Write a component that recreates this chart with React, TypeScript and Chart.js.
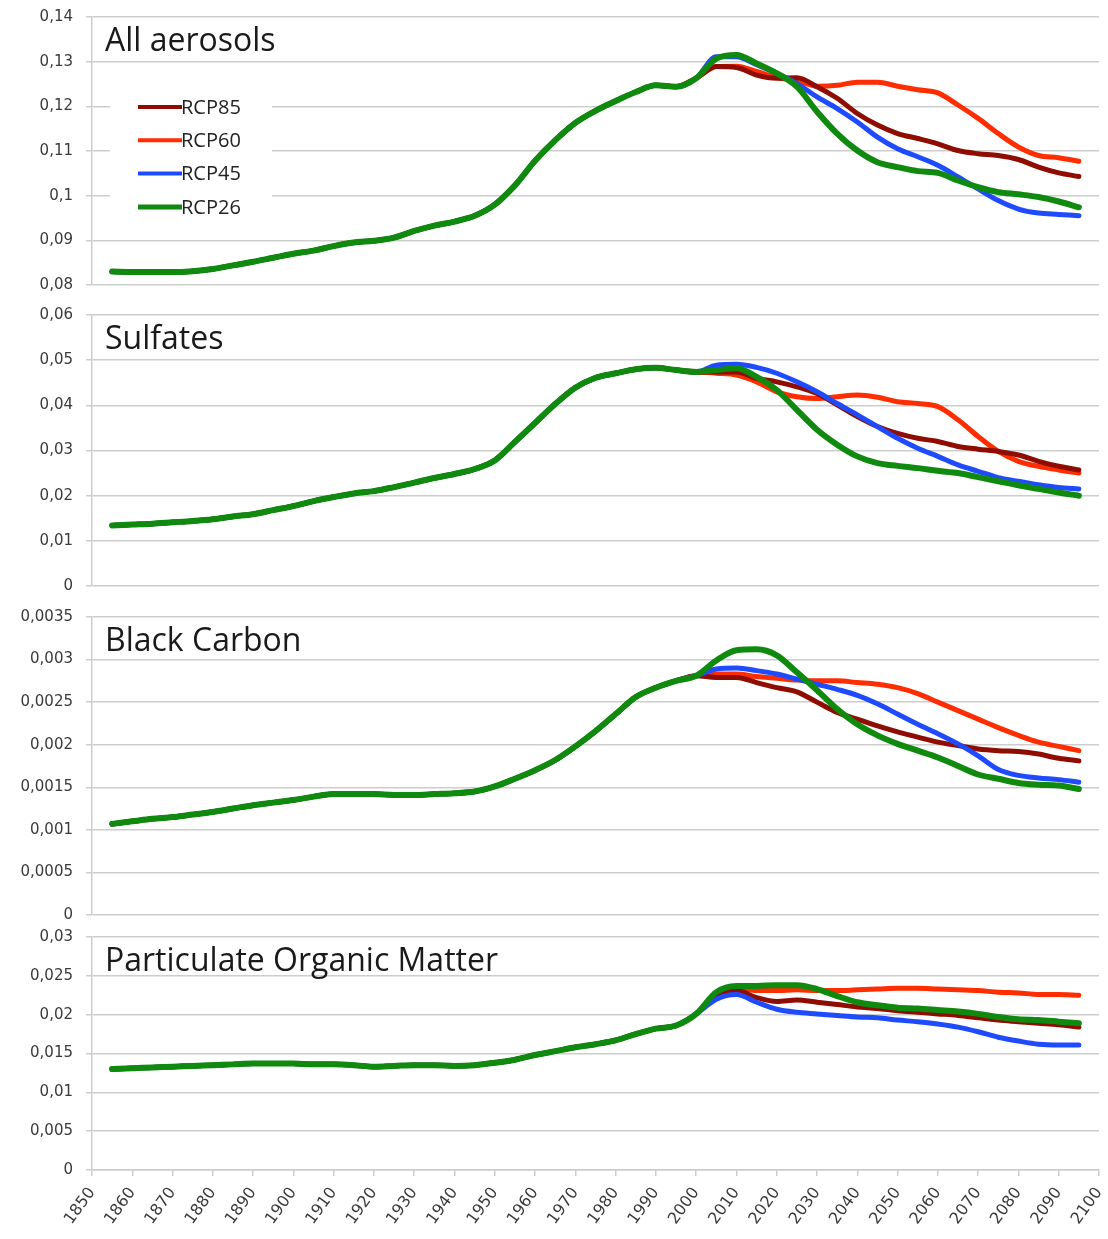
import React, { useEffect, useRef } from "react";
import { Chart, registerables } from "chart.js";

Chart.register(...registerables);

// ---------- DATA ----------
const years = [
  1855, 1860, 1865, 1870, 1875, 1880, 1885, 1890, 1895, 1900,
  1905, 1910, 1915, 1920, 1925, 1930, 1935, 1940, 1945, 1950,
  1955, 1960, 1965, 1970, 1975, 1980, 1985, 1990, 1995, 2000,
  2005, 2010, 2015, 2020, 2025, 2030, 2035, 2040, 2045, 2050,
  2055, 2060, 2065, 2070, 2075, 2080, 2085, 2090, 2095,
];

const seriesNames = ["RCP85", "RCP60", "RCP45", "RCP26"];
const xTickYears = [1850, 1860, 1870, 1880, 1890, 1900, 1910, 1920, 1930, 1940, 1950, 1960, 1970, 1980, 1990, 2000, 2010, 2020, 2030, 2040, 2050, 2060, 2070, 2080, 2090, 2100];

// All aerosols (historical 1855-2000, scenarios 2005-2095)
const allHist = [
  0.0830, 0.0829, 0.0829, 0.0829, 0.0831, 0.0836, 0.0844, 0.0852, 0.0861, 0.0870,
  0.0877, 0.0887, 0.0895, 0.0899, 0.0906, 0.0921, 0.0933, 0.0942, 0.0955, 0.0980,
  0.1023, 0.1078, 0.1124, 0.1163, 0.1190, 0.1212, 0.1232, 0.1247, 0.1244, 0.1263,
];
const allRcp85 = [0.1289, 0.1287, 0.1270, 0.1263, 0.1264, 0.1244, 0.1218, 0.1184, 0.1158, 0.1139, 0.1128, 0.1116, 0.1101, 0.1094, 0.1090, 0.1081, 0.1064, 0.1051, 0.1043];
const allRcp60 = [0.1289, 0.1290, 0.1278, 0.1265, 0.1257, 0.1245, 0.1247, 0.1254, 0.1254, 0.1245, 0.1237, 0.1230, 0.1203, 0.1173, 0.1139, 0.1109, 0.1090, 0.1085, 0.1077];
const allRcp45 = [0.1311, 0.1311, 0.1293, 0.1274, 0.1251, 0.1221, 0.1195, 0.1165, 0.1131, 0.1105, 0.1087, 0.1068, 0.1042, 0.1015, 0.0989, 0.0970, 0.0961, 0.0958, 0.0955];
const allRcp26 = [0.1307, 0.1315, 0.1296, 0.1274, 0.1244, 0.1188, 0.1139, 0.1101, 0.1075, 0.1064, 0.1055, 0.1051, 0.1034, 0.1019, 0.1008, 0.1003, 0.0997, 0.0987, 0.0974];

// Sulfates
const sulHist = [
  0.0134, 0.0136, 0.0138, 0.0141, 0.0144, 0.0148, 0.0154, 0.0159, 0.0168, 0.0177,
  0.0188, 0.0197, 0.0205, 0.0210, 0.0219, 0.0229, 0.0239, 0.0248, 0.0259, 0.0278,
  0.0319, 0.0361, 0.0403, 0.0439, 0.0461, 0.0471, 0.0480, 0.0483, 0.0478, 0.0474,
];
const sulRcp85 = [0.0474, 0.0474, 0.0460, 0.0452, 0.0441, 0.0426, 0.0401, 0.0375, 0.0353, 0.0338, 0.0327, 0.0320, 0.0309, 0.0303, 0.0298, 0.0290, 0.0276, 0.0265, 0.0257];
const sulRcp60 = [0.0471, 0.0467, 0.0452, 0.0430, 0.0419, 0.0415, 0.0419, 0.0423, 0.0418, 0.0408, 0.0404, 0.0397, 0.0368, 0.0331, 0.0298, 0.0276, 0.0265, 0.0257, 0.0250];
const sulRcp45 = [0.0489, 0.0491, 0.0484, 0.0471, 0.0452, 0.0430, 0.0404, 0.0379, 0.0353, 0.0327, 0.0305, 0.0287, 0.0268, 0.0254, 0.0240, 0.0232, 0.0224, 0.0218, 0.0215];
const sulRcp26 = [0.0478, 0.0482, 0.0463, 0.0434, 0.0390, 0.0346, 0.0313, 0.0287, 0.0272, 0.0266, 0.0261, 0.0255, 0.0250, 0.0241, 0.0232, 0.0223, 0.0215, 0.0207, 0.0200];

// Black Carbon
const bcHist = [
  0.00107, 0.00110, 0.00113, 0.00115, 0.00118, 0.00121, 0.00125, 0.00129, 0.00132, 0.00135,
  0.00139, 0.00142, 0.00142, 0.00142, 0.00141, 0.00141, 0.00142, 0.00143, 0.00145, 0.00151,
  0.00160, 0.00170, 0.00182, 0.00198, 0.00216, 0.00236, 0.00256, 0.00267, 0.00275, 0.00281,
];
const bcRcp85 = [0.00279, 0.00279, 0.00273, 0.00267, 0.00262, 0.00250, 0.00238, 0.00230, 0.00222, 0.00215, 0.00209, 0.00203, 0.00199, 0.00195, 0.00193, 0.00192, 0.00189, 0.00184, 0.00181];
const bcRcp60 = [0.00283, 0.00283, 0.00280, 0.00278, 0.00276, 0.00275, 0.00275, 0.00273, 0.00271, 0.00267, 0.00260, 0.00250, 0.00240, 0.00230, 0.00220, 0.00211, 0.00203, 0.00198, 0.00193];
const bcRcp45 = [0.00289, 0.00290, 0.00287, 0.00283, 0.00277, 0.00271, 0.00265, 0.00258, 0.00248, 0.00236, 0.00224, 0.00213, 0.00201, 0.00187, 0.00171, 0.00164, 0.00161, 0.00159, 0.00156];
const bcRcp26 = [0.00299, 0.00311, 0.00312, 0.00305, 0.00285, 0.00264, 0.00242, 0.00224, 0.00211, 0.00201, 0.00193, 0.00185, 0.00175, 0.00165, 0.00160, 0.00155, 0.00153, 0.00152, 0.00148];

// Particulate Organic Matter
const pomHist = [
  0.0130, 0.0131, 0.0132, 0.0133, 0.0134, 0.0135, 0.0136, 0.0137, 0.0137, 0.0137,
  0.0136, 0.0136, 0.0135, 0.0133, 0.0134, 0.0135, 0.0135, 0.0134, 0.0135, 0.0138,
  0.0142, 0.0148, 0.0153, 0.0158, 0.0162, 0.0167, 0.0175, 0.0182, 0.0186, 0.0201,
];
const pomRcp85 = [0.0226, 0.0231, 0.0222, 0.0217, 0.0219, 0.0216, 0.0213, 0.0210, 0.0208, 0.0205, 0.0203, 0.0201, 0.0199, 0.0196, 0.0193, 0.0191, 0.0189, 0.0187, 0.0184];
const pomRcp60 = [0.0226, 0.0233, 0.0231, 0.0231, 0.0232, 0.0231, 0.0231, 0.0232, 0.0233, 0.0234, 0.0234, 0.0233, 0.0232, 0.0231, 0.0229, 0.0228, 0.0226, 0.0226, 0.0225];
const pomRcp45 = [0.0220, 0.0226, 0.0216, 0.0207, 0.0203, 0.0201, 0.0199, 0.0197, 0.0196, 0.0193, 0.0191, 0.0188, 0.0184, 0.0178, 0.0171, 0.0166, 0.0162, 0.0161, 0.0161];
const pomRcp26 = [0.0229, 0.0237, 0.0237, 0.0238, 0.0238, 0.0233, 0.0224, 0.0216, 0.0212, 0.0209, 0.0208, 0.0206, 0.0204, 0.0201, 0.0197, 0.0194, 0.0193, 0.0191, 0.0189];

const panelTitles = ["All aerosols", "Sulfates", "Black Carbon", "Particulate Organic Matter"];
const yMins = [0.08, 0, 0, 0];
const yMaxs = [0.14, 0.06, 0.0035, 0.03];
const ySteps = [0.01, 0.01, 0.0005, 0.005];

// ---------- STYLE / LAYOUT ----------
const COLORS = ["#8e0c00", "#ff2d00", "#1f4bff", "#0f8a0f"];
const WIDTHS = [5, 5, 5, 6];
const ORDERS = [2, 3, 1, 0];
const GRID = "#cdcdcd";
const W = 1108;
const LEFT_W = 92;
const RIGHT_PAD = 9;

const panelLayout = [
  { top: 0, height: 300, padTop: 17, padBottom: 15 },
  { top: 300, height: 305, padTop: 15, padBottom: 19 },
  { top: 605, height: 320, padTop: 12, padBottom: 10 },
  { top: 925, height: 314, padTop: 12, padBottom: 0 },
];

const panelData = [
  { hist: allHist, fut: [allRcp85, allRcp60, allRcp45, allRcp26] },
  { hist: sulHist, fut: [sulRcp85, sulRcp60, sulRcp45, sulRcp26] },
  { hist: bcHist, fut: [bcRcp85, bcRcp60, bcRcp45, bcRcp26] },
  { hist: pomHist, fut: [pomRcp85, pomRcp60, pomRcp45, pomRcp26] },
];

const fmtComma = (v: number) => {
  const r = Number(Number(v).toFixed(6));
  return String(r).replace(".", ",");
};

const decorPlugin = {
  id: "panelDecor",
  beforeDatasetsDraw(chart: any, _args: any, opts: any) {
    if (!opts || !opts.legend) return;
    const { ctx, chartArea } = chart;
    ctx.save();
    ctx.fillStyle = "#ffffff";
    ctx.fillRect(chartArea.left + 18, chartArea.top + 70, 162, 140);
    ctx.font = "20px 'Open Sans'";
    ctx.textBaseline = "middle";
    ctx.textAlign = "left";
    seriesNames.forEach((name, i) => {
      const y = chartArea.top + 90 + i * 33.3;
      ctx.strokeStyle = COLORS[i];
      ctx.lineWidth = i === 3 ? 5 : 4;
      ctx.beginPath();
      ctx.moveTo(chartArea.left + 46, y);
      ctx.lineTo(chartArea.left + 90, y);
      ctx.stroke();
      ctx.fillStyle = "#222222";
      ctx.fillText(name, chartArea.left + 89, y + 1);
    });
    ctx.restore();
  },
  afterDatasetsDraw(chart: any, _args: any, opts: any) {
    if (!opts || !opts.title) return;
    const { ctx, chartArea } = chart;
    ctx.save();
    ctx.font = "32px 'Open Sans'";
    ctx.fillStyle = "#1a1a1a";
    ctx.textBaseline = "alphabetic";
    ctx.textAlign = "left";
    ctx.fillText(opts.title, chartArea.left + 13, chartArea.top + 34);
    ctx.restore();
  },
};

function buildConfig(i: number): any {
  const lay = panelLayout[i];
  const pd = panelData[i];
  const isBottom = i === 3;
  const datasets = seriesNames.map((name, s) => {
    const vals = pd.hist.concat(pd.fut[s]);
    return {
      label: name,
      data: years.map((yr, k) => ({ x: yr, y: vals[k] })),
      borderColor: COLORS[s],
      backgroundColor: COLORS[s],
      borderWidth: WIDTHS[s],
      pointRadius: 0,
      pointHoverRadius: 0,
      cubicInterpolationMode: "monotone",
      borderCapStyle: "round",
      borderJoinStyle: "round",
      order: ORDERS[s],
      fill: false,
    };
  });
  return {
    type: "line",
    data: { datasets },
    plugins: [decorPlugin],
    options: {
      responsive: false,
      maintainAspectRatio: false,
      animation: false,
      devicePixelRatio: 1,
      events: [],
      layout: { padding: { top: lay.padTop, bottom: lay.padBottom, left: 0, right: RIGHT_PAD } },
      plugins: {
        legend: { display: false },
        tooltip: { enabled: false },
        title: { display: false },
        panelDecor: { title: panelTitles[i], legend: i === 0 },
      },
      scales: {
        x: {
          type: "linear",
          min: 1850,
          max: 2100,
          display: isBottom,
          afterBuildTicks: (s: any) => {
            s.ticks = xTickYears.map((v) => ({ value: v }));
          },
          ticks: {
            autoSkip: false,
            minRotation: 54,
            maxRotation: 54,
            color: "#3a3a3a",
            padding: 8,
            font: { family: "'DejaVu Sans'", size: 16 },
            callback: (v: any) => String(v),
          },
          grid: { drawOnChartArea: false, drawTicks: true, tickLength: 6, color: GRID, lineWidth: 1.5 },
          border: { display: true, color: GRID, width: 1.5 },
          afterFit: (s: any) => {
            if (!isBottom) {
              s.height = 0;
              s.width = 0;
            } else {
              s.height = 69;
            }
            s.paddingLeft = 0;
            s.paddingRight = 0;
          },
        },
        y: {
          type: "linear",
          min: yMins[i],
          max: yMaxs[i],
          ticks: {
            stepSize: ySteps[i],
            color: "#3a3a3a",
            padding: 13,
            font: { family: "'DejaVu Sans'", size: 15 },
            callback: (v: any) => fmtComma(v),
          },
          grid: { color: GRID, lineWidth: 1.5, tickLength: 6, drawTicks: true },
          border: { display: true, color: GRID, width: 1.5 },
          afterFit: (s: any) => {
            s.width = LEFT_W;
            s.paddingTop = 0;
            s.paddingBottom = 0;
          },
        },
      },
    },
  };
}

export default function App() {
  const r0 = useRef<HTMLCanvasElement | null>(null);
  const r1 = useRef<HTMLCanvasElement | null>(null);
  const r2 = useRef<HTMLCanvasElement | null>(null);
  const r3 = useRef<HTMLCanvasElement | null>(null);
  const refs = [r0, r1, r2, r3];

  useEffect(() => {
    const charts = refs.map((r, i) => new Chart(r.current as HTMLCanvasElement, buildConfig(i)));
    return () => charts.forEach((c) => c.destroy());
  }, []);

  return (
    <div style={{ position: "absolute", left: 0, top: 0, width: W, height: 1239, background: "#ffffff" }}>
      {panelLayout.map((lay, i) => (
        <canvas
          key={i}
          ref={refs[i]}
          width={W}
          height={lay.height}
          style={{ position: "absolute", left: 0, top: lay.top, width: W, height: lay.height, display: "block" }}
        />
      ))}
    </div>
  );
}
